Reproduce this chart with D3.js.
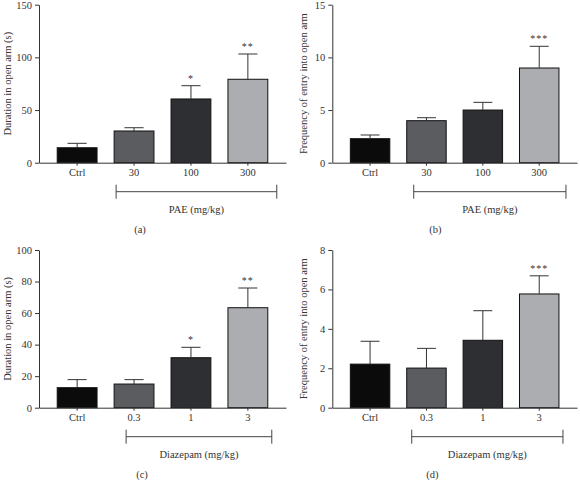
<!DOCTYPE html>
<html><head><meta charset="utf-8">
<script src="https://cdn.jsdelivr.net/npm/d3@7"></script>
<style>
body{margin:0;background:#fff;}
text{font-family:"Liberation Serif","Times New Roman",serif;fill:#333;}
</style></head>
<body><svg id="c" width="580" height="480"></svg>
<script>
// ---- data ----
const catsPAE = ["Ctrl","30","100","300"];
const catsDZP = ["Ctrl","0.3","1","3"];
const durPAE = [14.2, 30.1, 60.5, 79.2];
const durPAEErr = [4.2, 3.1, 12.6, 24.0];
const durPAEStars = ["", "", "*", "**"];
const freqPAE = [2.28, 3.99, 5.0, 8.99];
const freqPAEErr = [0.35, 0.28, 0.73, 2.06];
const freqPAEStars = ["", "", "", "***"];
const durDZP = [12.7, 15.0, 31.7, 63.4];
const durDZPErr = [5.1, 2.8, 6.6, 12.5];
const durDZPStars = ["", "", "*", "**"];
const freqDZP = [2.21, 2.01, 3.42, 5.77];
const freqDZPErr = [1.16, 1.0, 1.5, 0.92];
const freqDZPStars = ["", "", "", "***"];
const ticksA = [0, 50, 100, 150];
const ticksB = [0, 5, 10, 15];
const ticksC = [0, 20, 40, 60, 80, 100];
const ticksD = [0, 2, 4, 6, 8];
const barColors = ["#0b0b0b", "#5b5c60", "#2e2f32", "#abadb0"];

// ---- layout ----
const panels = [
  {cats:catsPAE, vals:durPAE, errs:durPAEErr, stars:durPAEStars, ticks:ticksA, max:150,
   x0:39, x1:286, y0:162.7, y1:4.7, ylab:"Duration in open arm (s)", ylabX:7,
   group:"PAE (mg/kg)", letter:"(a)", brL:2, brR:9, letX:101},
  {cats:catsPAE, vals:freqPAE, errs:freqPAEErr, stars:freqPAEStars, ticks:ticksB, max:15,
   x0:332.3, x1:577, y0:162.7, y1:4.7, ylab:"Frequency of entry into open arm", ylabX:303,
   group:"PAE (mg/kg)", letter:"(b)", brL:7, brR:7, letX:103},
  {cats:catsDZP, vals:durDZP, errs:durDZPErr, stars:durDZPStars, ticks:ticksC, max:100,
   x0:39, x1:286, y0:407.7, y1:250, ylab:"Duration in open arm (s)", ylabX:7,
   group:"Diazepam (mg/kg)", letter:"(c)", brL:12, brR:4, letX:103},
  {cats:catsDZP, vals:freqDZP, errs:freqDZPErr, stars:freqDZPStars, ticks:ticksD, max:8,
   x0:332.3, x1:577, y0:407.7, y1:250, ylab:"Frequency of entry into open arm", ylabX:303,
   group:"Diazepam (mg/kg)", letter:"(d)", brL:5, brR:4, letX:100}
];

const svg = d3.select("#c");
const axisColor = "#333";

panels.forEach(p => {
  const g = svg.append("g");
  const x = d3.scaleBand().domain(p.cats).range([p.x0, p.x1]).paddingInner(0.3).paddingOuter(0.32);
  const y = d3.scaleLinear().domain([0, p.max]).range([p.y0, p.y1]);
  const bw = x.bandwidth();

  // y axis
  const ya = g.append("g").attr("transform", `translate(${p.x0},0)`)
    .call(d3.axisLeft(y).tickValues(p.ticks).tickSize(4).tickPadding(3).tickSizeOuter(0));
  ya.select(".domain").attr("stroke", axisColor);
  ya.selectAll(".tick line").attr("stroke", axisColor);
  ya.selectAll(".tick text").attr("font-size", 10.5).attr("font-family", "Liberation Serif").attr("fill", "#333");

  // bars
  g.selectAll("rect.bar").data(p.vals).join("rect")
    .attr("x", (d,i) => x(p.cats[i]))
    .attr("y", d => y(d))
    .attr("width", bw)
    .attr("height", d => y(0) - y(d))
    .attr("fill", (d,i) => barColors[i])
    .attr("stroke", "#111").attr("stroke-width", 1);

  // error bars (upper)
  p.vals.forEach((v,i) => {
    const cx = x(p.cats[i]) + bw/2;
    const top = y(v + p.errs[i]);
    g.append("line").attr("x1", cx).attr("x2", cx).attr("y1", y(v)).attr("y2", top)
      .attr("stroke", "#333").attr("stroke-width", 1);
    g.append("line").attr("x1", cx - bw*0.24).attr("x2", cx + bw*0.24).attr("y1", top).attr("y2", top)
      .attr("stroke", "#333").attr("stroke-width", 1);
    if (p.stars[i]) {
      g.append("text").attr("x", cx).attr("y", top - 4).attr("text-anchor", "middle")
        .attr("font-size", 10).attr("fill", "#555").attr("letter-spacing", 1).text(p.stars[i]);
    }
  });

  // x axis
  const xa = g.append("g").attr("transform", `translate(0,${p.y0})`)
    .call(d3.axisBottom(x).tickSize(3).tickPadding(3).tickSizeOuter(0));
  xa.select(".domain").attr("stroke", axisColor);
  xa.selectAll(".tick line").attr("stroke", axisColor);
  xa.selectAll(".tick text").attr("font-size", 10.5).attr("font-family", "Liberation Serif").attr("fill", "#333");

  // bracket
  const bl = x(p.cats[1]) + p.brL, br = x(p.cats[3]) + bw + p.brR;
  const by = p.y0 + 29;
  g.append("line").attr("x1", bl).attr("x2", br).attr("y1", by).attr("y2", by).attr("stroke", "#444");
  [bl, br].forEach(xx => g.append("line").attr("x1", xx).attr("x2", xx).attr("y1", by-7).attr("y2", by+7).attr("stroke", "#444"));
  g.append("text").attr("x", (bl+br)/2).attr("y", by + 21).attr("text-anchor", "middle")
    .attr("font-size", 10.5).text(p.group);

  // panel letter
  g.append("text").attr("x", p.x0 + p.letX).attr("y", p.y0 + 70).attr("text-anchor", "middle")
    .attr("font-size", 10.5).text(p.letter);

  // y label
  g.append("text").attr("transform", `translate(${p.ylabX + 4},${(p.y0 + p.y1)/2}) rotate(-90)`)
    .attr("text-anchor", "middle").attr("font-size", 10.5).text(p.ylab);
});
</script></body></html>
